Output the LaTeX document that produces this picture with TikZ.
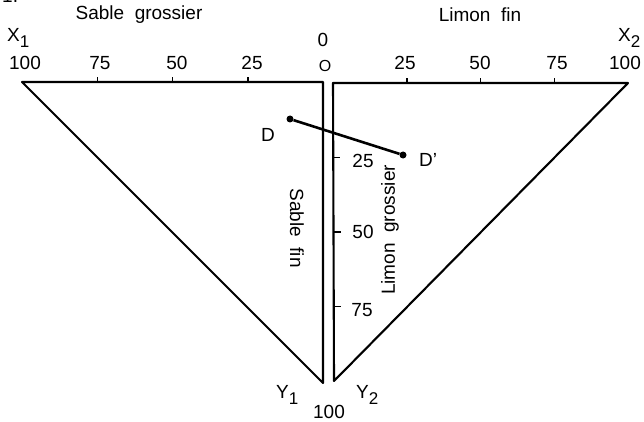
\documentclass[tikz,border=0pt]{standalone}
\usepackage{fontspec}
\setmainfont{Liberation Sans}
\usetikzlibrary{positioning,calc}
\newcommand{\lowidx}[1]{\raisebox{-6pt}{\fontsize{17}{17}\selectfont #1}}

\begin{document}
\begin{tikzpicture}[
    x=1pt, y=-1pt,
    every node/.style={font=\fontsize{19}{22}\selectfont, inner sep=0pt},
    axis/.style={line width=2.1pt, line join=round},
    tick/.style={line width=1.5pt},
    dot/.style={circle, fill, minimum size=7pt, inner sep=0pt}
]
    \useasboundingbox (0,0) rectangle (644,422);
    \node[anchor=base west] (fig) at (2,3) {1.};

    % Left triangle
    \coordinate (x1) at (22,82);
    \coordinate (o1) at (323,82);
    \coordinate (y1) at (323,383);
    \draw[axis] (o1) -- (x1) -- (y1) -- cycle;

    % Right triangle
    \coordinate (o2) at (333,83);
    \coordinate (x2) at (628,83);
    \coordinate (y2) at (334,381);
    \draw[axis] (o2) -- (x2) -- (y2) -- cycle;

    % Ticks
    \foreach \v in {25,50,75} {
        \draw[tick] ($(o1)!\v/100!(x1)$) -- ++(0,-5);
        \draw[tick] ($(o2)!\v/100!(x2)$) -- ++(0,-5);
        \draw[tick] ($(o2)!\v/100!(y2)$) -- ++(7,0);
    }

    % Scale labels
    \node (l100) at (25,63) {100};
    \node (l75) at (100,63) {75};
    \node (l50) at (177,63) {50};
    \node (l25) at (252,63) {25};
    \node (zero) at (323,40) {0};
    \node[font=\fontsize{16}{18}\selectfont] (orig) at (325,66) {O};
    \node (r25) at (405,63) {25};
    \node (r50) at (480,63) {50};
    \node (r75) at (557,63) {75};
    \node (r100) at (625,63) {100};
    \node (v25) at (363,161) {25};
    \node (v50) at (363,232) {50};
    \node (v75) at (362,310) {75};
    \node (v100) at (329,412) {100};

    % Axis names
    \node[anchor=base west] (lx1) at (7,42) {X\lowidx{1}};
    \node[anchor=base west] (lx2) at (618,42) {X\lowidx{2}};
    \node[anchor=base west] (ly1) at (276,398) {Y\lowidx{1}};
    \node[anchor=base west] (ly2) at (356,398) {Y\lowidx{2}};
    \node (sgros) at (139,15) {Sable\ \ grossier};
    \node (lfin) at (480,15) {Limon\ \ fin};
    \node[rotate=-90] (sfin) at (297,228) {Sable\ \ fin};
    \node[rotate=90] (lgros) at (390,230) {Limon\ \ grossier};

    % Points D and D'
    \node[dot] (d) at (290,119) {};
    \node[dot] (dp) at (403,155) {};
    \draw[line width=2.6pt] (d) -- (dp);
    \node (ld) at (268,135) {D};
    \node (ldp) at (428,160) {D’};
\end{tikzpicture}
\end{document}
